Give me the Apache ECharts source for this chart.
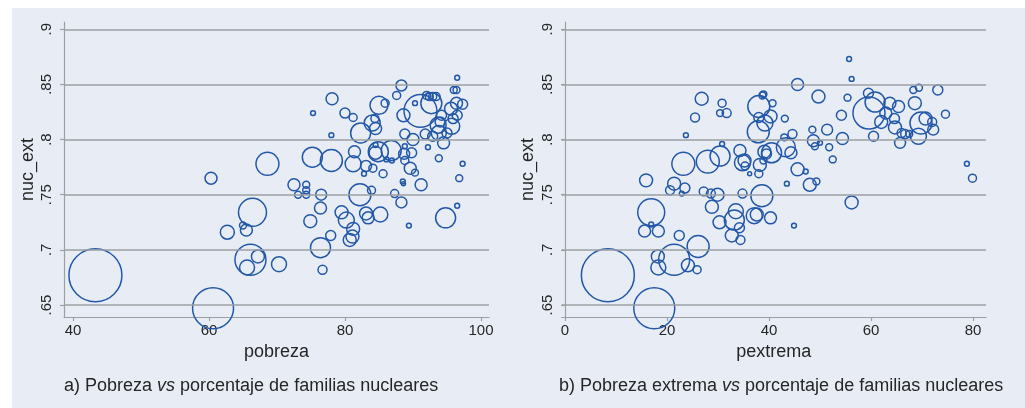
<!DOCTYPE html>
<html><head><meta charset="utf-8">
<script src="https://cdn.jsdelivr.net/npm/echarts@6/dist/echarts.min.js"></script>
<style>html,body{margin:0;padding:0;background:#fff}#c{width:1025px;height:408px}</style>
</head><body><div id="c"></div>
<script>
// Tick values
const yTicks = [0.65, 0.7, 0.75, 0.8, 0.85, 0.9];
const xTicksA = [40, 60, 80, 100];
const xTicksB = [0, 20, 40, 60, 80];

// Panel a: pobreza vs nuc_ext (bubble weight = peso)
const pobreza = [43.3,60.6,66.1,66.4,65.6,67.2,65.5,65.0,62.7,60.3,68.6,70.3,72.5,73.1,74.3,74.3,74.3,74.9,75.2,75.3,
  76.5,76.4,76.4,76.7,77.9,78.0,78.1,78.0,79.5,80.2,80.0,81.2,80.7,81.1,81.2,81.2,81.4,82.3,82.2,82.8,
  83.1,83.1,83.4,83.9,84.0,84.4,84.5,84.5,84.9,84.1,84.5,85.0,85.2,85.6,85.9,86.1,86.8,86.9,87.3,87.6,
  88.3,88.3,88.5,88.6,88.6,88.8,88.8,88.7,88.8,89.4,89.6,89.8,90.0,90.3,90.3,91.1,91.2,91.8,92.2,92.0,
  92.4,92.9,93.4,92.7,92.9,93.8,93.7,94.0,94.5,94.2,94.8,95.0,95.6,95.7,95.9,96.0,96.4,96.5,96.5,96.8,
  96.5,97.3,97.3,96.4,93.8];
const nucA = [0.677,0.647,0.691,0.734,0.684,0.694,0.718,0.722,0.716,0.765,0.778,0.687,0.759,0.750,0.759,0.754,0.750,0.726,0.784,0.824,
  0.750,0.738,0.702,0.682,0.713,0.781,0.837,0.804,0.734,0.727,0.824,0.820,0.709,0.712,0.719,0.778,0.789,0.806,0.750,0.769,
  0.776,0.733,0.729,0.754,0.815,0.819,0.810,0.788,0.789,0.774,0.795,0.831,0.732,0.769,0.833,0.782,0.790,0.781,0.751,0.840,
  0.849,0.743,0.762,0.760,0.822,0.805,0.794,0.787,0.781,0.722,0.774,0.788,0.800,0.770,0.833,0.826,0.759,0.805,0.793,0.840,
  0.839,0.839,0.839,0.833,0.803,0.783,0.813,0.816,0.797,0.822,0.729,0.806,0.828,0.812,0.819,0.845,0.845,0.856,0.822,0.765,
  0.740,0.778,0.832,0.833,0.806];
const pesoA = [702,420,240,196,56,42,36,12,49,36,132,56,36,12,12,12,12,42,100,6,
  30,36,100,20,25,121,36,6,42,64,25,16,42,42,42,64,36,100,121,6,
  30,42,36,16,64,16,36,42,100,16,6,81,56,16,16,6,100,6,16,16,
  30,30,6,4,42,25,6,30,16,6,36,25,36,12,6,270,36,25,6,16,
  16,16,16,110,25,12,64,25,36,25,100,25,42,64,25,12,12,6,25,12,
  6,6,25,36,56];

// Panel b: pextrema vs nuc_ext
const pextrema = [8.4,17.5,21.4,16.9,18.3,18.2,18.3,15.6,16.9,15.9,23.2,24.1,25.9,26.1,22.4,21.4,20.6,23.5,22.9,23.7,
  25.5,26.8,27.2,28.0,28.6,28.8,29.9,30.3,30.4,30.8,30.4,31.7,30.8,32.7,33.2,33.5,34.2,34.4,34.3,34.8,
  35.2,35.3,34.8,36.2,37.1,37.6,38.0,37.9,38.0,38.9,38.7,38.0,38.2,38.6,39.1,39.5,38.9,39.2,40.3,40.5,
  40.3,40.7,43.1,43.0,43.3,43.5,44.3,44.6,44.9,45.6,45.6,47.2,48.0,48.5,48.7,49.0,49.3,50.0,49.7,51.4,
  51.8,52.5,54.2,54.4,55.4,55.7,56.2,56.2,59.5,59.6,60.8,60.5,62.0,62.9,63.7,65.4,64.6,64.7,65.7,66.0,
  66.7,67.5,68.3,69.4,68.6,69.3,69.8,70.7,72.2,72.0,73.1,74.6,78.8,79.9];
const nucB = [0.677,0.647,0.691,0.734,0.684,0.694,0.717,0.717,0.723,0.763,0.778,0.686,0.682,0.703,0.713,0.760,0.754,0.756,0.751,0.804,
  0.820,0.837,0.753,0.780,0.751,0.739,0.750,0.725,0.785,0.833,0.824,0.824,0.796,0.713,0.727,0.735,0.720,0.709,0.790,0.779,
  0.781,0.776,0.751,0.769,0.731,0.732,0.830,0.807,0.820,0.841,0.840,0.769,0.777,0.749,0.789,0.787,0.781,0.815,0.821,0.788,
  0.729,0.833,0.819,0.802,0.793,0.760,0.788,0.805,0.722,0.850,0.773,0.771,0.759,0.809,0.799,0.794,0.762,0.797,0.839,0.809,
  0.793,0.782,0.822,0.801,0.838,0.873,0.855,0.743,0.842,0.824,0.834,0.803,0.816,0.824,0.833,0.830,0.819,0.811,0.797,0.806,
  0.805,0.805,0.845,0.847,0.833,0.803,0.815,0.819,0.809,0.816,0.845,0.823,0.778,0.765];
const pesoB = [702,420,240,182,56,42,36,36,6,42,132,42,16,121,25,42,20,25,6,6,
  20,42,20,132,20,42,42,42,100,16,12,20,6,42,100,56,25,20,36,64,
  42,16,20,4,64,42,121,121,25,12,12,16,42,121,42,25,12,64,42,100,
  36,12,12,12,90,6,36,20,6,36,42,6,42,12,36,12,12,6,42,30,
  12,12,25,36,12,6,6,42,25,256,100,25,42,36,36,36,25,42,30,20,
  20,12,12,12,42,64,121,42,30,20,25,16,6,16];

const BLUE = '#2358a8';
const GRID = '#9c9fa3';
const TXT = '#262626';
const FONT = '"Liberation Sans", Arial, Helvetica, sans-serif';

function yAxisCfg(gi, labelMargin, nameGap) {
  return {
    type: 'value', gridIndex: gi, min: 0.6391, max: 0.9066,
    name: 'nuc_ext', nameLocation: 'middle', nameGap: nameGap, nameRotate: 90,
    nameTextStyle: { fontSize: 18, color: TXT, fontFamily: FONT },
    axisLine: { show: true, lineStyle: { color: GRID, width: 1.2 } },
    axisTick: { show: true, length: 4, customValues: yTicks, lineStyle: { color: GRID, width: 1.2 } },
    axisLabel: { customValues: yTicks, rotate: 90, margin: labelMargin, fontSize: 15, color: TXT, fontFamily: FONT,
      formatter: v => String(+v.toFixed(2)).replace(/^0/, '') },
    splitLine: { show: false }
  };
}
function xAxisCfg(gi, min, max, ticks, name) {
  return {
    type: 'value', gridIndex: gi, min: min, max: max,
    name: name, nameLocation: 'middle', nameGap: 23,
    nameTextStyle: { fontSize: 18, color: TXT, fontFamily: FONT },
    axisLine: { show: true, lineStyle: { color: GRID, width: 1.2 } },
    axisTick: { show: true, length: 4, customValues: ticks, lineStyle: { color: GRID, width: 1.2 } },
    axisLabel: { customValues: ticks, margin: 6, fontSize: 15, color: TXT, fontFamily: FONT },
    splitLine: { show: false }
  };
}
function scatter(gi, xs, ys, ws) {
  return {
    type: 'scatter', xAxisIndex: gi, yAxisIndex: gi, clip: false,
    data: xs.map((x, i) => [x, ys[i], ws[i]]),
    symbol: 'circle',
    symbolSize: v => 2 * Math.sqrt(v[2]),
    itemStyle: { color: 'rgba(0,0,0,0)', borderColor: BLUE, borderWidth: 1.5, opacity: 1 },
    emphasis: { disabled: true },
    markLine: {
      silent: true, symbol: 'none', label: { show: false }, animation: false,
      lineStyle: { color: GRID, width: 1.6, type: 'solid' },
      data: yTicks.map(t => ({ yAxis: t }))
    },
    animation: false
  };
}

const richTitle = {
  n: { fontSize: 18, color: TXT, fontFamily: FONT, fontWeight: 'normal', lineHeight: 20 },
  i: { fontSize: 18, color: TXT, fontFamily: FONT, fontWeight: 'normal', fontStyle: 'italic', lineHeight: 20 }
};

const chart = echarts.init(document.getElementById('c'), null, { renderer: 'canvas' });
chart.setOption({
  backgroundColor: '#e8edf5',
  animation: false,
  textStyle: { fontFamily: FONT },
  graphic: [
    { type: 'rect', shape: { x: 0, y: 0, width: 1025, height: 8 }, style: { fill: '#ffffff' }, silent: true },
    { type: 'rect', shape: { x: 0, y: 0, width: 12, height: 408 }, style: { fill: '#ffffff' }, silent: true }
  ],
  title: [
    { text: '{n|a) Pobreza }{i|vs}{n| porcentaje de familias nucleares}', left: 64, top: 376, padding: 0,
      textStyle: { fontWeight: 'normal', rich: richTitle } },
    { text: '{n|b) Pobreza extrema }{i|vs}{n| porcentaje de familias nucleares}', left: 559, top: 376, padding: 0,
      textStyle: { fontWeight: 'normal', rich: richTitle } }
  ],
  grid: [
    { left: 64, top: 22, width: 425, height: 295, containLabel: false },
    { left: 561.7, top: 22, width: 424.3, height: 295, containLabel: false }
  ],
  xAxis: [
    xAxisCfg(0, 38.68, 101.18, xTicksA, 'pobreza'),
    xAxisCfg(1, -0.65, 82.55, xTicksB, 'pextrema')
  ],
  yAxis: [
    yAxisCfg(0, 10, 27),
    yAxisCfg(1, 6.5, 24.5)
  ],
  series: [
    scatter(0, pobreza, nucA, pesoA),
    scatter(1, pextrema, nucB, pesoB)
  ]
});
</script>
</body></html>
